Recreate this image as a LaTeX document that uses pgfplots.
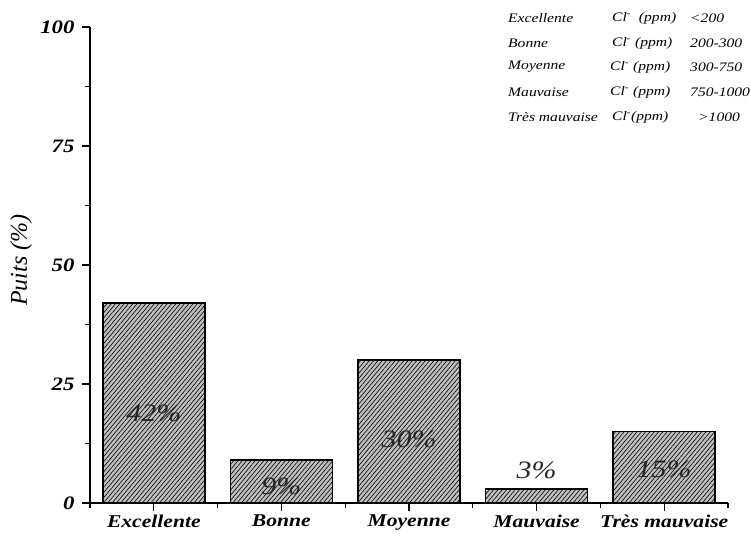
\documentclass[border=0pt]{standalone}
\usepackage{fontspec}
\setmainfont{Liberation Serif}
\usepackage{pgfplots}
\pgfplotsset{compat=1.18}
\usetikzlibrary{patterns.meta}
\newcommand{\sx}[1]{\scalebox{1.2}[1]{#1}}
\begin{document}
\begin{tikzpicture}[x=1pt,y=1pt]
\useasboundingbox (0,0) rectangle (751,539);
\begin{axis}[
  at={(90pt,36pt)}, anchor=south west,
  scale only axis, width=638pt, height=476pt,
  xmin=-0.5, xmax=4.5, ymin=0, ymax=100,
  axis x line*=bottom, axis y line*=left,
  axis line style={line width=1.5pt, -},
  xtick={0,1,2,3,4},
  xticklabels={\sx{Excellente},\sx{Bonne},\sx{Moyenne},\sx{Mauvaise},\sx{Très mauvaise}},
  minor xtick={-0.5,0.5,1.5,2.5,3.5,4.5},
  ytick={0,25,50,75,100}, minor ytick={12.5,37.5,62.5,87.5},
  tick align=outside, major tick length=8pt, minor tick length=5pt,
  every tick/.style={line width=1.1pt, black},
  /pgf/number format/assume math mode=true,
  xticklabel style={font=\fontsize{18}{21}\selectfont\bfseries\itshape},
  yticklabel style={font=\fontsize{19}{22}\selectfont\bfseries\itshape, xshift=-4pt},
  yticklabel={\sx{\pgfmathprintnumber{\tick}}},
  ylabel={\textit{Puits (\%)}},
  ylabel style={font=\fontsize{24}{27}\selectfont, at={(axis description cs:-0.108,0.51)}, anchor=center},
  clip=false,
]
\addplot[ybar, bar width=0.8, draw=black, line width=1.6pt, fill=black!25,
  postaction={pattern={Lines[angle=50,distance=3.3pt,line width=0.6pt]}}]
  coordinates {(0,42) (1,9) (2,30) (3,3) (4,15)};
\begin{scope}[every node/.style={font=\fontsize{25}{28}\selectfont\itshape, text=black!85}]
\node at (axis cs:0,18.9) {\sx{42\%}};
\node at (axis cs:1,3.4) {\sx{9\%}};
\node at (axis cs:2,13.4) {\sx{30\%}};
\node at (axis cs:3,6.8) {\sx{3\%}};
\node at (axis cs:4,7.0) {\sx{15\%}};
\end{scope}
\end{axis}
\begin{scope}[every node/.style={font=\fontsize{13}{15}\selectfont\itshape, anchor=west, inner sep=0pt}]
\node at (508,521) {\sx{Excellente}};
\node at (612,521) {\sx{Cl\textsuperscript{-}\ \ (ppm)}};
\node at (690,521) {\sx{<200}};
\node at (508,496) {\sx{Bonne}};
\node at (612,496) {\sx{Cl\textsuperscript{-} (ppm)}};
\node at (690,496) {\sx{200-300}};
\node at (508,472) {\sx{Moyenne}};
\node at (610,472) {\sx{Cl\textsuperscript{-} (ppm)}};
\node at (690,472) {\sx{300-750}};
\node at (508,447) {\sx{Mauvaise}};
\node at (610,447) {\sx{Cl\textsuperscript{-} (ppm)}};
\node at (690,447) {\sx{750-1000}};
\node at (508,422) {\sx{Très mauvaise}};
\node at (612,422) {\sx{Cl\textsuperscript{-}(ppm)}};
\node at (698,422) {\sx{>1000}};
\end{scope}
\end{tikzpicture}
\end{document}
